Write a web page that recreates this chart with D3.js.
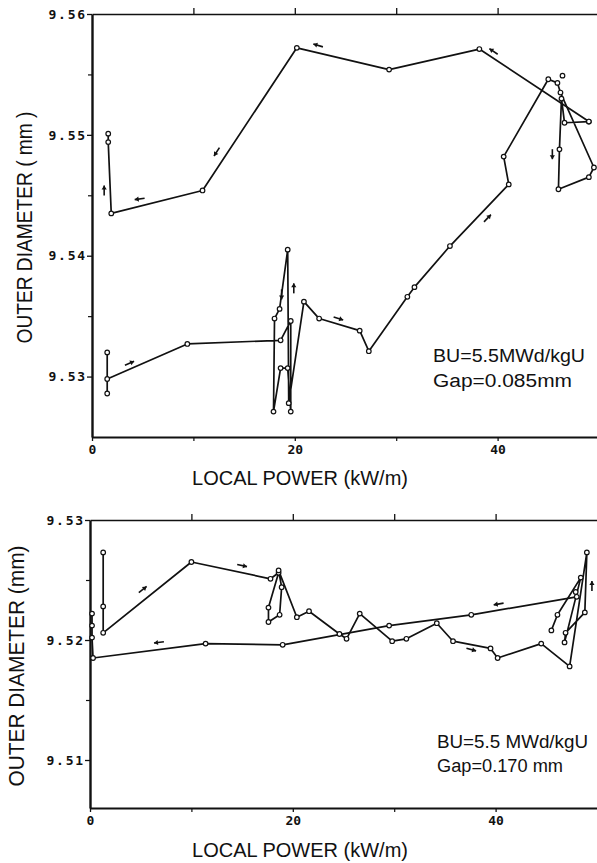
<!DOCTYPE html>
<html>
<head>
<meta charset="utf-8">
<script src="https://cdn.jsdelivr.net/npm/d3@7"></script>
<style>
  body { margin: 0; background: #fff; }
  svg { display: block; }
  .tick text { font-family: "DejaVu Sans Mono", monospace; font-weight: bold; fill: #111; }
</style>
</head>
<body>
<svg id="fig" width="597" height="863"></svg>
<script>
// Readings are [local power (kW/m), outer diameter (mm)]

// Gap 0.085 mm: power ramp up, through the hold near 19 kW/m, to peak power
const gap085Ramp = [
  [1.5, 9.5320], [1.5, 9.5286], [1.5, 9.5298], [9.4, 9.5327], [18.6, 9.5330],
  [19.6, 9.5346], [19.6, 9.5271], [19.3, 9.5307], [18.6, 9.5307], [17.9, 9.5271],
  [18.0, 9.5348], [18.5, 9.5356], [19.3, 9.5405], [19.4, 9.5278], [20.9, 9.5362],
  [22.4, 9.5348], [26.4, 9.5338], [27.3, 9.5321], [31.1, 9.5366], [31.8, 9.5374],
  [35.3, 9.5408], [41.1, 9.5459], [40.6, 9.5482], [45.0, 9.5546], [45.9, 9.5543],
  [46.2, 9.5535], [49.5, 9.5473], [49.0, 9.5465], [46.0, 9.5455], [46.1, 9.5488],
  [46.3, 9.5530], [46.6, 9.5510], [49.0, 9.5511]
];
// Gap 0.085 mm: power ramp down
const gap085Down = [
  [49.0, 9.5511], [38.2, 9.5571], [29.3, 9.5554], [20.2, 9.5572], [10.9, 9.5454],
  [1.9, 9.5435], [1.6, 9.5494], [1.6, 9.5501]
];
const gap085Loose = [[46.4, 9.5549]];
// arrows: [power, diameter, direction in degrees on screen]
const gap085Arrows = [
  [1.2, 9.5454, -90], [4.7, 9.5447, 172], [12.3, 9.5486, 123], [22.3, 9.5574, -163],
  [39.6, 9.5569, -146], [39.0, 9.5431, -46], [45.4, 9.5484, 90], [3.7, 9.5311, -24],
  [18.7, 9.5368, 90], [19.9, 9.5373, -90], [24.3, 9.5348, 17]
];

// Gap 0.170 mm: power ramp up
const gap170Ramp = [
  [1.3, 9.5273], [1.3, 9.5228], [1.3, 9.5206], [10.0, 9.5265], [17.8, 9.5251],
  [18.6, 9.5256], [17.6, 9.5227], [17.6, 9.5215], [18.7, 9.5221], [18.9, 9.5244],
  [18.6, 9.5258], [20.4, 9.5219], [21.6, 9.5224], [24.6, 9.5205], [25.3, 9.5201],
  [26.6, 9.5222], [29.8, 9.5199], [31.2, 9.5201], [34.2, 9.5214], [35.8, 9.5199],
  [39.5, 9.5193], [40.2, 9.5185], [44.5, 9.5197], [47.3, 9.5178], [49.0, 9.5273],
  [48.8, 9.5223], [46.9, 9.5206], [46.8, 9.5198], [48.4, 9.5252], [46.1, 9.5221],
  [45.5, 9.5208]
];
// Gap 0.170 mm: power ramp down
const gap170Down = [
  [48.0, 9.5236], [37.6, 9.5221], [29.5, 9.5212], [19.0, 9.5196], [11.4, 9.5197],
  [0.3, 9.5185], [0.2, 9.5202], [0.2, 9.5212], [0.2, 9.5222]
];
const gap170Loose = [[47.9, 9.5240]];
const gap170Arrows = [
  [5.2, 9.5242, -39], [15.0, 9.5262, 12], [6.8, 9.5198, 173], [40.3, 9.5230, 170],
  [37.6, 9.5192, 15], [49.5, 9.5245, -90]
];

// axis ticks
const powerLabelled = [0, 20, 40];
const powerMinor = [10, 30];
const powerTop = [10, 20, 30, 40];
const diaTicks085 = [9.53, 9.54, 9.55, 9.56];
const diaMinor085 = [9.535, 9.545, 9.555];
const diaTicks170 = [9.51, 9.52, 9.53];
const diaMinor170 = [9.515, 9.525];

const panels = [
  {
    left: 92, top: 14, bottom: 437, yDomain: [9.525, 9.56],
    ticks: diaTicks085, minor: diaMinor085,
    lines: [gap085Ramp, gap085Down], loose: gap085Loose, arrows: gap085Arrows,
    yTitle: "OUTER DIAMETER ( mm )", yTitleX: 24, yTitleLen: 232,
    xTitleY: 485,
    note: ["BU=5.5MWd/kgU", "Gap=0.085mm"], noteX: 433, noteY: [362, 387], noteLen: [152, 139]
  },
  {
    left: 90, top: 520, bottom: 808, yDomain: [9.506, 9.53],
    ticks: diaTicks170, minor: diaMinor170,
    lines: [gap170Ramp, gap170Down], loose: gap170Loose, arrows: gap170Arrows,
    yTitle: "OUTER DIAMETER (mm)", yTitleX: 16, yTitleLen: 241,
    xTitleY: 857,
    note: ["BU=5.5 MWd/kgU", "Gap=0.170 mm"], noteX: 437, noteY: [748, 772], noteLen: [151, 126]
  }
];

const svg = d3.select("#fig");
const ink = "#111";

panels.forEach(p => {
  const x = d3.scaleLinear().domain([0, 50]).range([p.left, p.left + 507]);
  const y = d3.scaleLinear().domain(p.yDomain).range([p.bottom, p.top]);
  const g = svg.append("g");

  // frame: top edge with outward ticks
  const topAx = g.append("g").attr("transform", `translate(0,${p.top})`)
    .call(d3.axisTop(x).tickValues(powerTop).tickSize(6).tickSizeOuter(0).tickFormat(""));
  topAx.select(".domain").attr("stroke-width", 1.6).attr("stroke", ink);
  topAx.selectAll(".tick line").attr("stroke-width", 1.3).attr("stroke", ink);

  // bottom axis
  const botAx = g.append("g").attr("transform", `translate(0,${p.bottom})`)
    .call(d3.axisBottom(x).tickValues(powerLabelled).tickSize(4).tickPadding(4).tickSizeOuter(0)
      .tickFormat(d3.format("d")));
  botAx.select(".domain").attr("stroke-width", 2.2).attr("stroke", ink);
  botAx.selectAll(".tick line").attr("stroke-width", 1.3).attr("stroke", ink);
  botAx.selectAll(".tick text").attr("font-size", 13);
  const botMinor = g.append("g").attr("transform", `translate(0,${p.bottom})`)
    .call(d3.axisBottom(x).tickValues(powerMinor).tickSize(4).tickFormat(""));
  botMinor.select(".domain").remove();
  botMinor.selectAll(".tick line").attr("stroke", ink).attr("stroke-width", 1.2);

  // left axis
  const leftAx = g.append("g").attr("transform", `translate(${p.left},0)`)
    .call(d3.axisLeft(y).tickValues(p.ticks).tickSize(5).tickPadding(0).tickSizeOuter(0)
      .tickFormat(d3.format(".2f")));
  leftAx.select(".domain").attr("stroke-width", 2.4).attr("stroke", ink);
  leftAx.selectAll(".tick line").attr("stroke-width", 1.3).attr("stroke", ink);
  leftAx.selectAll(".tick text").attr("font-size", 13).attr("letter-spacing", 1.8);
  const leftMinor = g.append("g").attr("transform", `translate(${p.left},0)`)
    .call(d3.axisLeft(y).tickValues(p.minor).tickSize(4).tickFormat(""));
  leftMinor.select(".domain").remove();
  leftMinor.selectAll(".tick line").attr("stroke", ink).attr("stroke-width", 1.2);

  // measured traces
  const line = d3.line().x(d => x(d[0])).y(d => y(d[1]));
  p.lines.forEach(series => {
    g.append("path").datum(series).attr("d", line)
      .attr("fill", "none").attr("stroke", ink).attr("stroke-width", 1.7)
      .attr("stroke-linejoin", "round");
  });
  p.lines.concat([p.loose]).forEach(series => {
    g.selectAll(null).data(series).join("circle")
      .attr("cx", d => x(d[0])).attr("cy", d => y(d[1])).attr("r", 2.3)
      .attr("fill", "#fff").attr("stroke", ink).attr("stroke-width", 1.2);
  });

  // direction arrows
  const arr = g.selectAll(null).data(p.arrows).join("g")
    .attr("transform", d => `translate(${x(d[0])},${y(d[1])}) rotate(${d[2]})`);
  arr.append("path").attr("d", "M-5,0 L5,0").attr("stroke", ink).attr("stroke-width", 1.6);
  arr.append("path").attr("d", "M5,0 L1,-2.6 L1,2.6 Z").attr("fill", ink);

  // axis titles
  g.append("text")
    .attr("x", 300).attr("y", p.xTitleY).attr("text-anchor", "middle")
    .attr("font-family", "Liberation Sans, Arial, sans-serif").attr("font-size", 20)
    .attr("fill", ink).attr("textLength", 216).attr("lengthAdjust", "spacingAndGlyphs")
    .text("LOCAL POWER (kW/m)");
  const yMid = (p.top + p.bottom) / 2 + 2;
  g.append("text")
    .attr("transform", `translate(${p.yTitleX + 8},${yMid}) rotate(-90)`)
    .attr("text-anchor", "middle")
    .attr("font-family", "Liberation Sans, Arial, sans-serif").attr("font-size", 22)
    .attr("fill", ink).attr("textLength", p.yTitleLen).attr("lengthAdjust", "spacingAndGlyphs")
    .text(p.yTitle);

  // case annotation
  p.note.forEach((t, i) => {
    g.append("text").attr("x", p.noteX).attr("y", p.noteY[i])
      .attr("font-family", "Liberation Sans, Arial, sans-serif").attr("font-size", 18)
      .attr("fill", ink).attr("textLength", p.noteLen[i]).attr("lengthAdjust", "spacingAndGlyphs")
      .text(t);
  });
});
</script>
</body>
</html>
